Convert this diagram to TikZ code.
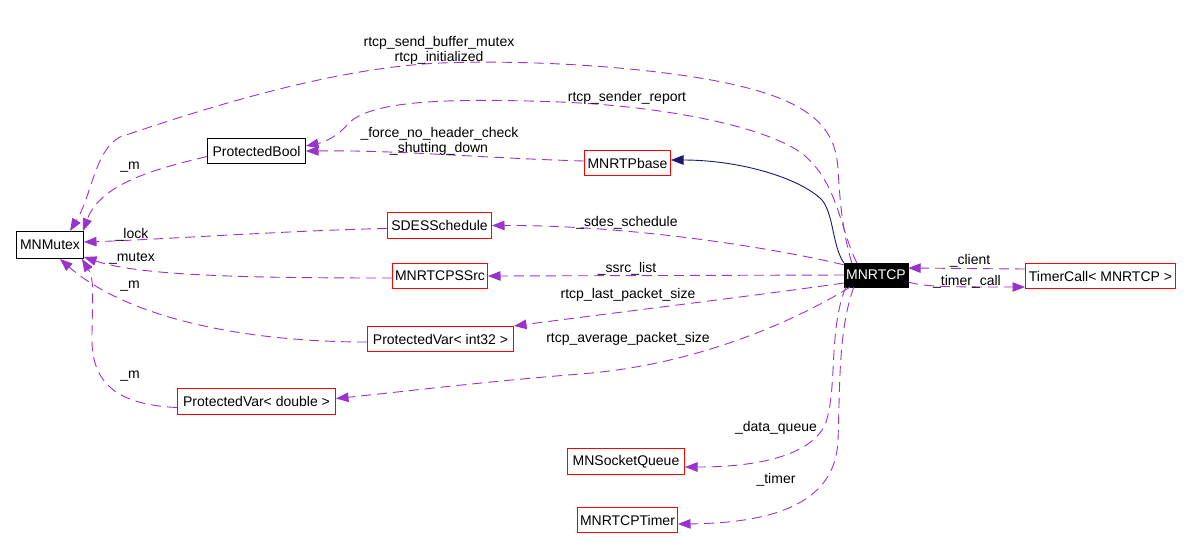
\documentclass[tikz,border=0pt]{standalone}
\usepackage{fontspec}
\setmainfont{Liberation Sans}
\usetikzlibrary{arrows.meta}
\definecolor{dpurple}{RGB}{154,50,205}
\definecolor{dnavy}{RGB}{25,25,112}
\definecolor{dred}{RGB}{255,0,0}
\begin{document}
\begin{tikzpicture}[x=1pt,y=-1pt,
  font=\fontsize{14}{16}\selectfont,
  cls/.style={draw=black,line width=1pt,inner sep=0pt,text=black},
  redcls/.style={draw=dred,line width=1pt,inner sep=0pt,text=black},
  usage/.style={draw=dpurple,line width=0.9pt,dash pattern=on 10pt off 6pt,
    -{Triangle[length=12.5pt,width=9.5pt,fill=dpurple]}},
  inherit/.style={draw=dnavy,line width=0.9pt,
    -{Triangle[length=12.5pt,width=9.5pt,fill=dnavy]}},
  lbl/.style={inner sep=0pt,text=black}]
\useasboundingbox (0,0) rectangle (1192,550);
\fill[white] (0,0) rectangle (1192,550);

% classes
\node[cls,minimum width=67pt,minimum height=27pt] (mutex) at (50,245) {MNMutex};
\node[cls,minimum width=98pt,minimum height=25pt] (pbool) at (256.5,151) {ProtectedBool};
\node[redcls,minimum width=86pt,minimum height=25pt] (rtpbase) at (627.5,163) {MNRTPbase};
\node[redcls,minimum width=104pt,minimum height=26pt] (sdes) at (439.5,225.5) {SDESSchedule};
\node[redcls,minimum width=95pt,minimum height=25pt] (ssrc) at (440,276) {MNRTCPSSrc};
\node[fill=black,draw=black,inner sep=0pt,minimum width=64pt,minimum height=24pt,text=white] (mnrtcp) at (876,275) {MNRTCP};
\node[redcls,minimum width=150pt,minimum height=25pt] (timercall) at (1100.5,276) {TimerCall< MNRTCP >};
\node[redcls,minimum width=146pt,minimum height=25pt] (pvint) at (440.5,339) {ProtectedVar< int32 >};
\node[redcls,minimum width=158pt,minimum height=26pt] (pvdbl) at (256.5,401.5) {ProtectedVar< double >};
\node[redcls,minimum width=117pt,minimum height=26pt] (sockq) at (626,461.5) {MNSocketQueue};
\node[redcls,minimum width=100pt,minimum height=25pt] (timer) at (627.5,520) {MNRTCPTimer};

% edges
% rtcp_send_buffer_mutex / rtcp_initialized
\draw[usage] ([xshift=8pt]mnrtcp.north west) .. controls (842,230) and (840,200) .. (838,170)
  .. controls (836,120) and (800,95) .. (700,78)
  .. controls (620,65) and (520,60) .. (440,63)
  .. controls (330,68) and (200,110) .. (120,137)
  .. controls (95,150) and (92,195) .. ([xshift=20pt]mutex.north);
% rtcp_sender_report
\draw[usage] ([xshift=13pt]mnrtcp.north west) .. controls (840,230) and (838,180) .. (800,152)
  .. controls (760,125) and (660,106) .. (560,102)
  .. controls (450,98) and (370,100) .. (348,124)
  .. controls (338,136) and (325,142) .. ([yshift=5pt]pbool.east);
% _force_no_header_check / _shutting_down
\draw[usage] ([yshift=2pt]rtpbase.west) .. controls (480,158) and (400,150) .. (pbool.east);
% _m  ProtectedBool -> MNMutex
\draw[usage] ([yshift=-5.5pt]pbool.west) .. controls (150,170) and (100,185) .. ([xshift=-1pt]mutex.north east);
% inheritance
\draw[inherit] (mnrtcp.north west) .. controls (832,245) and (834,215) .. (822,200)
  .. controls (800,178) and (740,160) .. ([yshift=3pt]rtpbase.east);
% _sdes_schedule
\draw[usage] ([yshift=-2pt]mnrtcp.north west) .. controls (760,245) and (620,225) .. (sdes.east);
% _lock
\draw[usage] ([yshift=-3pt]sdes.west) .. controls (300,230) and (150,240) .. ([yshift=3pt]mutex.east);
% _ssrc_list
\draw[usage] (mnrtcp.west) -- (ssrc.east);
% _mutex
\draw[usage] ([yshift=-2pt]ssrc.west) .. controls (250,278) and (140,276) .. ([yshift=2pt]mutex.south east);
% rtcp_last_packet_size
\draw[usage] ([yshift=-8pt]mnrtcp.west) .. controls (760,295) and (620,312) .. (pvint.north east);
% _m  ProtectedVar<int32> -> MNMutex
\draw[usage] ([yshift=-3pt]pvint.west) .. controls (250,342) and (130,320) .. ([xshift=10pt]mutex.south);
% rtcp_average_packet_size
\draw[usage] ([xshift=6pt]mnrtcp.south west) .. controls (800,318) and (700,365) .. (580,374)
  .. controls (480,382) and (400,392) .. ([yshift=3pt]pvdbl.east);
% _m  ProtectedVar<double> -> MNMutex
\draw[usage] ([yshift=-6pt]pvdbl.west) .. controls (120,405) and (92,385) .. (92,340)
  .. controls (92,300) and (95,280) .. ([xshift=-2pt]mutex.south east);
% _client
\draw[usage] ([yshift=7pt]timercall.west) -- ([yshift=7pt]mnrtcp.east);
% _timer_call
\draw[usage] ([yshift=-7pt]mnrtcp.east) .. controls (925,287) and (950,287) .. ([yshift=-11pt]timercall.west);
% _data_queue
\draw[usage] ([xshift=2pt]mnrtcp.south west) .. controls (828,330) and (838,390) .. (825,425)
  .. controls (810,455) and (760,467) .. ([yshift=-5.5pt]sockq.east);
% _timer
\draw[usage] ([xshift=10pt]mnrtcp.south west) .. controls (838,330) and (840,390) .. (838,440)
  .. controls (836,500) and (780,523) .. ([yshift=-4pt]timer.east);

% labels
\node[lbl] (l1) at (439,43) {rtcp\_send\_buffer\_mutex};
\node[lbl] (l2) at (439,57.5) {rtcp\_initialized};
\node[lbl] (l3) at (627,97.5) {rtcp\_sender\_report};
\node[lbl] (l4) at (439.5,134) {\_force\_no\_header\_check};
\node[lbl] (l5) at (439,149) {\_shutting\_down};
\node[lbl] (l6) at (130,167) {\_m};
\node[lbl] (l7) at (132,235) {\_lock};
\node[lbl] (l8) at (132,258.5) {\_mutex};
\node[lbl] (l9) at (130,286) {\_m};
\node[lbl] (l10) at (130,376) {\_m};
\node[lbl] (l11) at (627,222.5) {\_sdes\_schedule};
\node[lbl] (l12) at (627,269) {\_ssrc\_list};
\node[lbl] (l13) at (628,295) {rtcp\_last\_packet\_size};
\node[lbl] (l14) at (628,339) {rtcp\_average\_packet\_size};
\node[lbl] (l15) at (970,261) {\_client};
\node[lbl] (l16) at (967,282) {\_timer\_call};
\node[lbl] (l17) at (776,427.5) {\_data\_queue};
\node[lbl] (l18) at (776,480) {\_timer};
\end{tikzpicture}
\end{document}
